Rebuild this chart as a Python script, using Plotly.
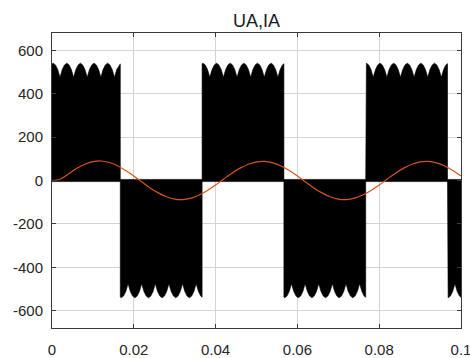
import numpy as np
import plotly.graph_objects as go

# ---------------- data ----------------
# PWM phase voltage UA: blocks of switching (start, end, polarity)
UA_BLOCK_START = [0.0, 0.0167, 0.0367, 0.0567, 0.0767, 0.0967]
UA_BLOCK_END = [0.0167, 0.0367, 0.0567, 0.0767, 0.0967, 0.1]
UA_BLOCK_SIGN = [1, -1, 1, -1, 1, -1]

# DC-link ripple envelope of the pulses (one scallop, cusp -> peak -> cusp)
SCALLOP_FRAC = [0.0, 1 / 6, 2 / 6, 3 / 6, 4 / 6, 5 / 6, 1.0]
SCALLOP_VALUE = [476, 512, 533, 541, 533, 512, 476]
SCALLOP_PERIOD = 0.00333
SCALLOP_FIRST_CUSP = 0.0186
UA_ZERO_FRINGE = 5

# phase current IA
IA_T = [i * 0.002 for i in range(51)]
IA_VALUES = [0, 6, 30, 55, 75, 87, 90, 83, 68, 46,
             21, -7, -34, -57, -75, -86, -88, -81, -67, -46,
             -21, 7, 34, 57, 75, 86, 88, 81, 67, 46,
             21, -7, -34, -57, -75, -86, -88, -81, -67, -46,
             -21, 7, 34, 57, 75, 86, 88, 81, 67, 46, 21]

X_TICKS = [0, 0.02, 0.04, 0.06, 0.08, 0.1]
X_TICK_LABELS = ["0", "0.02", "0.04", "0.06", "0.08", "0.1"]
Y_TICKS = [-600, -400, -200, 0, 200, 400, 600]
Y_TICK_LABELS = ["-600", "-400", "-200", "0", "200", "400", "600"]

# ---------------- build envelope by tiling the scallop ----------------
env_t, env_v = [], []
k0 = int(np.floor((0.0 - SCALLOP_FIRST_CUSP) / SCALLOP_PERIOD)) - 1
k1 = int(np.ceil((0.1 - SCALLOP_FIRST_CUSP) / SCALLOP_PERIOD)) + 1
for k in range(k0, k1 + 1):
    base = SCALLOP_FIRST_CUSP + k * SCALLOP_PERIOD
    for f, v in zip(SCALLOP_FRAC[:-1], SCALLOP_VALUE[:-1]):
        env_t.append(base + f * SCALLOP_PERIOD)
        env_v.append(v)
env_t = np.array(env_t)
env_v = np.array(env_v)

fig = go.Figure()
for s, e, sg in zip(UA_BLOCK_START, UA_BLOCK_END, UA_BLOCK_SIGN):
    inside = (env_t > s) & (env_t < e)
    xs = [s] + list(env_t[inside]) + [e]
    ys = [np.interp(s, env_t, env_v)] + list(env_v[inside]) + [np.interp(e, env_t, env_v)]
    ys = [sg * y for y in ys]
    px = [s] + xs + [e, s]
    py = [-sg * UA_ZERO_FRINGE] + ys + [-sg * UA_ZERO_FRINGE, -sg * UA_ZERO_FRINGE]
    fig.add_trace(go.Scatter(x=px, y=py, mode="lines", fill="toself",
                             fillcolor="black", line=dict(color="black", width=0.6),
                             hoverinfo="skip", showlegend=False))

fig.add_trace(go.Scatter(x=IA_T, y=IA_VALUES, mode="lines",
                         line=dict(color="#D95319", width=1.2, shape="spline"),
                         showlegend=False))

axis_common = dict(showgrid=True, gridcolor="#d4d4d4", gridwidth=1,
                   showline=True, linecolor="#3a3a3a", linewidth=1,
                   mirror="ticks", ticks="inside", ticklen=4, tickcolor="#3a3a3a",
                   zeroline=False, automargin=False, ticklabeloverflow="allow",
                   tickfont=dict(family="Liberation Sans, Arial, sans-serif",
                                 size=15, color="#262626"))

fig.update_xaxes(range=[0, 0.1], tickvals=X_TICKS, ticktext=X_TICK_LABELS,
                 ticklabelstandoff=8, **axis_common)
fig.update_yaxes(range=[-680, 680], tickvals=Y_TICKS, ticktext=Y_TICK_LABELS,
                 ticklabelstandoff=5, **axis_common)

fig.update_layout(
    width=470, height=358,
    margin=dict(l=52, r=9, t=33, b=30, autoexpand=False),
    paper_bgcolor="white", plot_bgcolor="white",
    title=dict(text="UA,IA", x=0.5, xanchor="center", xref="paper",
               y=1 - 21 / 358, yanchor="middle",
               font=dict(family="Liberation Sans, Arial, sans-serif", size=18, color="#1a1a1a")),
)

fig.write_html("out.html", config={"displayModeBar": False},
               post_script="document.body.style.margin='0';"
                           "document.body.style.padding='0';"
                           "document.body.style.overflow='hidden';")
